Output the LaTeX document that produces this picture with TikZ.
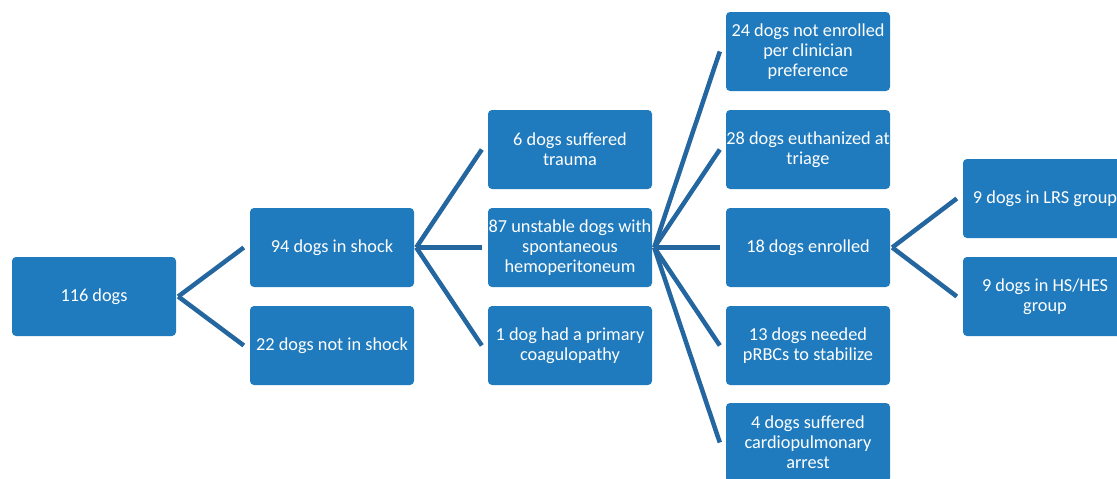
\documentclass[tikz,border=0pt]{standalone}
\usepackage{fontspec}
\setmainfont{Carlito}
\usepackage{xcolor}
\usepackage{tikz}
\definecolor{boxBlue}{HTML}{1F7BBE}
\definecolor{linkBlue}{HTML}{2366A0}

\begin{document}
\begin{tikzpicture}[x=1pt,y=-1pt,
    box/.style={fill=boxBlue, rounded corners=4pt, minimum width=164pt,
        minimum height=79pt, inner sep=0pt, align=center, text=white,
        font=\fontsize{18.3}{20.2}\selectfont},
    link/.style={draw=linkBlue, line width=4.5pt}]

            \useasboundingbox (0,0) rectangle (1117,479);
            \clip (0,0) rectangle (1117,479);

            \newcommand{\FanOut}[2]{%
                \foreach \Child in {#2}
                    \draw[link] ([xshift=2pt]#1.east) -- ([xshift=-6pt]\Child.west);
            }

            \node[box] (total) at (94,296.5) {116 dogs};

            \node[box] (shock)   at (332,247.5) {94 dogs in shock};
            \node[box] (noshock) at (332,345.5) {22 dogs not in shock};

            \node[box] (trauma)   at (570,149.5) {6 dogs suffered\\trauma};
            \node[box] (unstable) at (570,247.5) {87 unstable dogs with\\spontaneous\\hemoperitoneum};
            \node[box] (coag)     at (570,345.5) {1 dog had a primary\\coagulopathy};

            \node[box] (notenrolled) at (808,51.5)  {24 dogs not enrolled\\per clinician\\preference};
            \node[box] (euthanized)  at (808,149.5) {28 dogs euthanized at\\triage};
            \node[box] (enrolled)    at (808,247.5) {18 dogs enrolled};
            \node[box] (prbc)        at (808,345.5) {13 dogs needed\\pRBCs to stabilize};
            \node[box] (arrest)      at (808,442.5) {4 dogs suffered\\cardiopulmonary\\arrest};

            \node[box] (lrs) at (1045,198.5) {9 dogs in LRS group};
            \node[box] (hes) at (1045,296.5) {9 dogs in HS/HES\\group};

            \FanOut{total}{shock,noshock}
            \FanOut{shock}{trauma,unstable,coag}
            \FanOut{unstable}{notenrolled,euthanized,enrolled,prbc,arrest}
            \FanOut{enrolled}{lrs,hes}

        \end{tikzpicture}
\end{document}
